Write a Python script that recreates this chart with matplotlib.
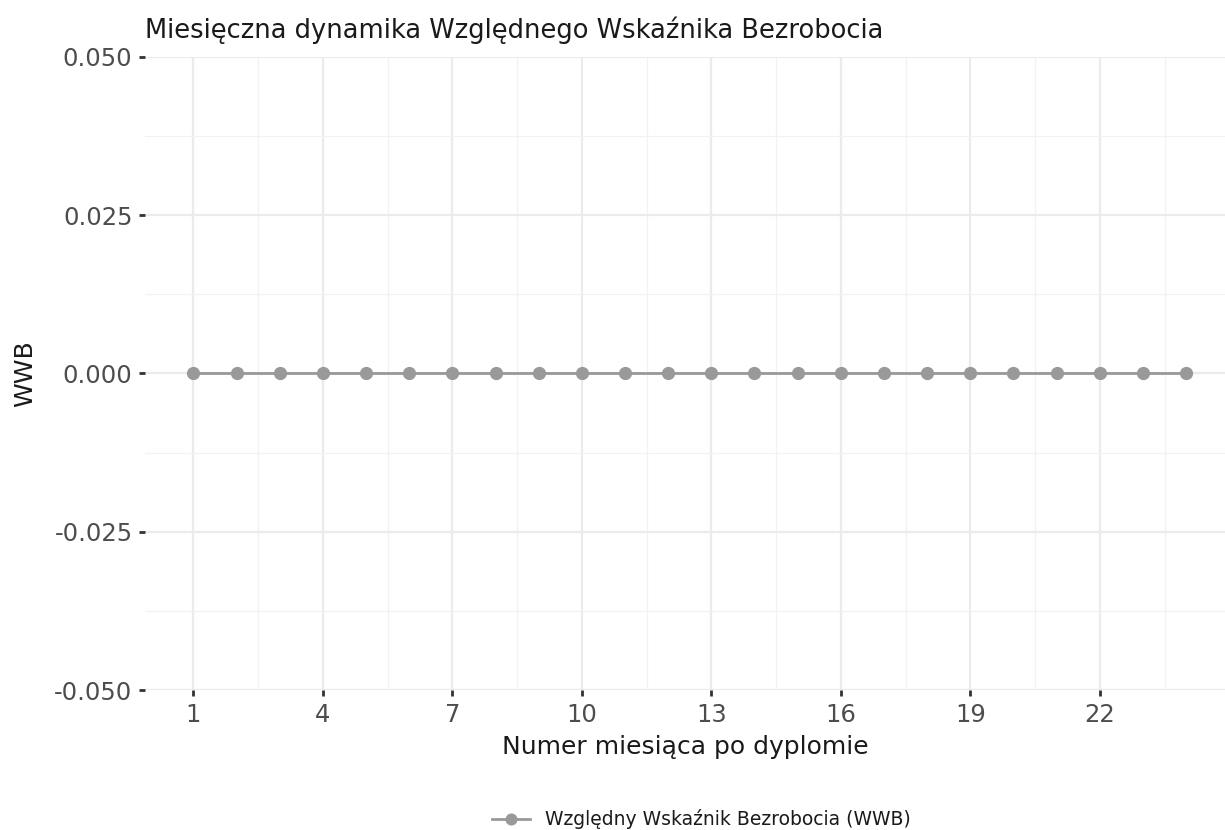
import matplotlib
matplotlib.use("Agg")
import matplotlib.pyplot as plt

plt.rcParams['font.family'] = ['DejaVu Sans']

# data
months = list(range(1, 25))
wwb = [0.0] * 24
x_ticks = [1, 4, 7, 10, 13, 16, 19, 22]
y_ticks = [-0.050, -0.025, 0.000, 0.025, 0.050]

fig = plt.figure(figsize=(12.25, 8.3), dpi=100)
ax = fig.add_axes([145 / 1225, 1 - 690 / 830, 1 - 145 / 1225, (690 - 57) / 830])

ax.plot(months, wwb, color='#999999', lw=2, marker='o', ms=8.5,
        label='Względny Wskaźnik Bezrobocia (WWB)')

ax.set_xlim(-0.12, 24.9)
ax.set_ylim(-0.05, 0.05)
ax.set_xticks(x_ticks)
ax.set_yticks(y_ticks)
ax.set_yticklabels([f'{v:.3f}' for v in y_ticks])
ax.set_xticks([x + 1.5 for x in x_ticks], minor=True)
ax.set_yticks([-0.0375, -0.0125, 0.0125, 0.0375], minor=True)

ax.grid(which='major', color='#ebebeb', lw=1.6)
ax.grid(which='minor', color='#f2f2f2', lw=0.9)
ax.set_axisbelow(True)
for s in ax.spines.values():
    s.set_visible(False)

ax.tick_params(which='major', length=4, width=2, color='#333333',
               labelsize=17.5, labelcolor='#4d4d4d', pad=5)
ax.tick_params(axis='x', which='major', pad=5)
ax.tick_params(which='minor', length=0)

ax.set_xlabel('Numer miesiąca po dyplomie', fontsize=18, color='#1a1a1a', labelpad=6)
ax.set_ylabel('WWB', fontsize=18, color='#1a1a1a', labelpad=12)
ax.set_title('Miesięczna dynamika Względnego Wskaźnika Bezrobocia', loc='left',
             fontsize=18.5, color='#1a1a1a', pad=14)

ax.legend(loc='upper center', bbox_to_anchor=(0.515, -0.162), frameon=False,
          fontsize=13.5, handlelength=2.0, markerscale=0.9, labelcolor='#1a1a1a')

fig.savefig('out.png', dpi=100)
